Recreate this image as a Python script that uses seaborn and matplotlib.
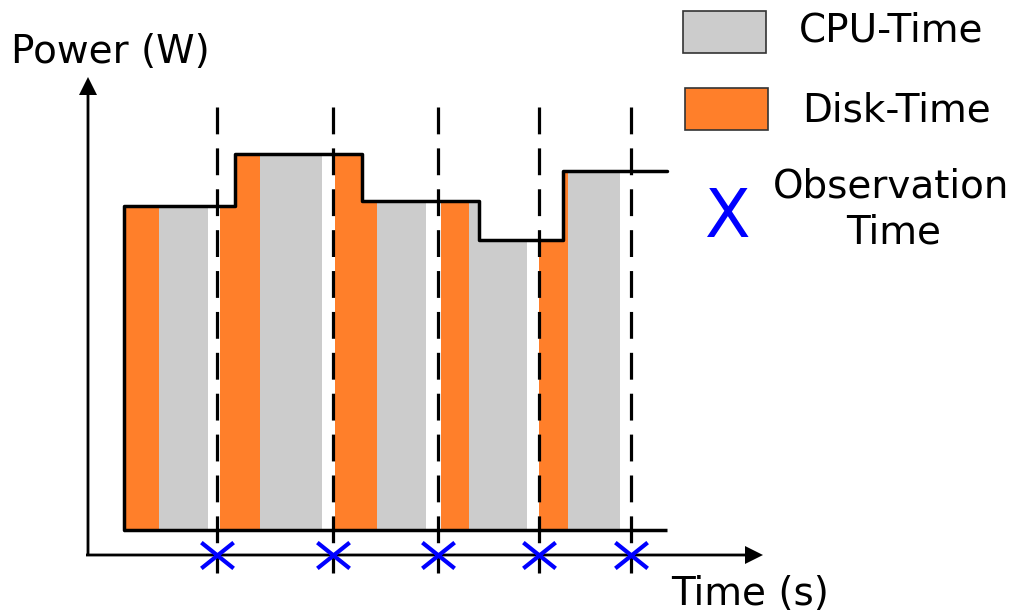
import numpy as np
import matplotlib
matplotlib.use("Agg")
import matplotlib.pyplot as plt
import seaborn as sns
from matplotlib.patches import Polygon, Rectangle
from matplotlib.path import Path

# ── Data (time / power in arbitrary diagram units) ───────────────────────────

disk_start = [3.6, 13.2, 24.7, 35.3, 45.1]
disk_end   = [7.1, 17.2, 28.9, 38.1, 48.0]
cpu_start  = [7.1, 17.2, 28.9, 38.1, 48.0]
cpu_end    = [12.0, 23.4, 33.8, 43.9, 53.2]

# step outline of total power: edges and level between consecutive edges
step_edges  = [3.6, 14.7, 27.4, 39.1, 47.5, 57.9]
step_levels = [34.9, 40.1, 35.4, 31.5, 38.4]
baseline    = 2.5

obs_times = [12.9, 24.5, 35.0, 45.1, 54.3]

DISK_COLOR = "#ff7f2a"
CPU_COLOR  = "#cccccc"
OBS_COLOR  = "#0000ff"

# ── Figure ───────────────────────────────────────────────────────────────────

sns.set_theme(style="white")
plt.rcParams["font.family"] = ["DejaVu Sans"]
plt.rcParams["text.color"] = "black"

fig = plt.figure(figsize=(10.16, 6.12), dpi=100)
ax = fig.add_axes([0, 0, 1, 1])
ax.set_xlim(-8.8, 92.8)
ax.set_ylim(-5.7, 55.5)
ax.axis("off")

# area under the step function, used to clip the bars
poly_verts = [(step_edges[0], baseline)]
for i, lvl in enumerate(step_levels):
    poly_verts.append((step_edges[i], lvl))
    poly_verts.append((step_edges[i + 1], lvl))
poly_verts.append((step_edges[-1], baseline))
clip_poly = Polygon(poly_verts, closed=True, transform=ax.transData)

top = max(step_levels) - baseline
for starts, ends, color in [(disk_start, disk_end, DISK_COLOR),
                            (cpu_start, cpu_end, CPU_COLOR)]:
    widths = np.array(ends) - np.array(starts)
    bars = ax.bar(starts, top, width=widths, bottom=baseline, align="edge",
                  color=color, linewidth=0, zorder=1)
    for b in bars:
        b.set_clip_path(clip_poly)

# step outline
step_x = [step_edges[0]] + step_edges
step_y = [baseline] + step_levels + [step_levels[-1]]
sns.lineplot(x=step_x, y=step_y, drawstyle="steps-post", estimator=None,
             sort=False, color="black", linewidth=2.5, ax=ax, zorder=3)
ax.hlines(baseline, step_edges[0], step_edges[-1], color="black",
          linewidth=2.5, zorder=3)

# observation lines
ax.vlines(obs_times, 44.8, -1.8, colors="black", linewidth=2.3,
          linestyles=[(0, (8.4, 4.4))], zorder=2)

# axes arrows
arrow_kw = dict(width=0.28, head_width=1.8, head_length=1.8,
                length_includes_head=True, color="black", lw=0, zorder=4)
ax.arrow(-0.2, 0, 67.7, 0, **arrow_kw)
ax.arrow(0, 0, 0, 47.8, **arrow_kw)

# observation markers
xmark = Path([(-1.25, -1), (1.25, 1), (-1.25, 1), (1.25, -1)],
             [Path.MOVETO, Path.LINETO, Path.MOVETO, Path.LINETO])
sns.scatterplot(x=obs_times, y=[0] * len(obs_times), marker=xmark, s=540,
                color=OBS_COLOR, edgecolor=OBS_COLOR, linewidth=3.0,
                ax=ax, zorder=5)

# axis labels
ax.text(2.2, 49.2, "Power (W)", fontsize=28, ha="center", va="baseline")
ax.text(66.2, -5.0, "Time (s)", fontsize=28, ha="center", va="baseline")

# hand-drawn legend
ax.add_patch(Rectangle((59.5, 50.2), 8.3, 4.2, facecolor=CPU_COLOR,
                       edgecolor="#333333", linewidth=1.2))
ax.add_patch(Rectangle((59.7, 42.5), 8.3, 4.2, facecolor=DISK_COLOR,
                       edgecolor="#333333", linewidth=1.2))
ax.text(80.3, 51.3, "CPU-Time", fontsize=28, ha="center", va="baseline")
ax.text(80.8, 43.3, "Disk-Time", fontsize=28, ha="center", va="baseline")
ax.text(63.9, 31.8, "X", fontsize=48, color=OBS_COLOR, ha="center",
        va="baseline")
ax.text(80.3, 35.8, "Observation", fontsize=28, ha="center", va="baseline")
ax.text(80.6, 31.2, "Time", fontsize=28, ha="center", va="baseline")

fig.savefig("out.png", dpi=100)
plt.close(fig)
